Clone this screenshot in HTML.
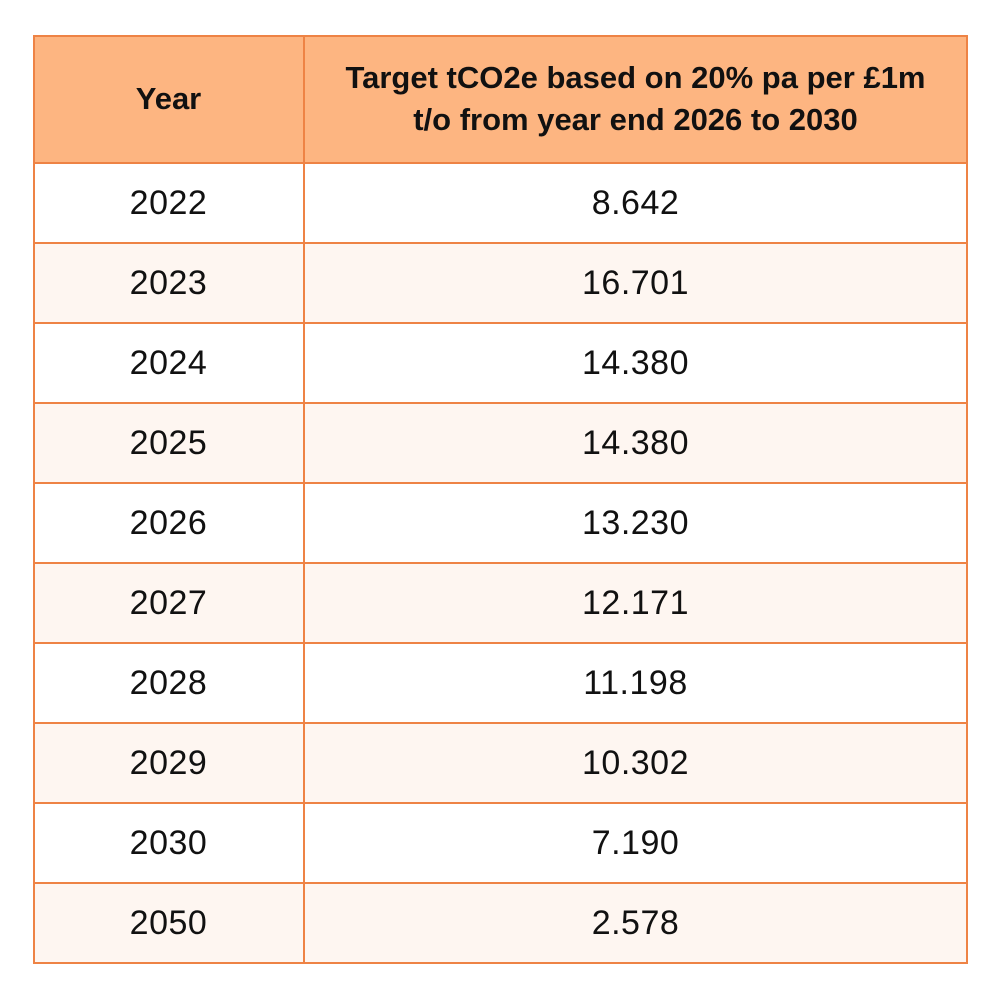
<!DOCTYPE html>
<html><head><style>
body{margin:0;width:1000px;height:1000px;background:#fff;font-family:"Liberation Sans",sans-serif;position:relative;overflow:hidden}
.c{position:absolute;box-sizing:border-box;display:flex;align-items:center;justify-content:center;text-align:center;color:#111}
.b{font-size:34px;letter-spacing:0.5px}
.h{font-weight:bold;font-size:31px;line-height:42px;background:#FDB581}
.ln{position:absolute;background:#EE8345}
</style></head><body>
<div class="c h" style="left:33px;top:35px;width:271px;height:128px">Year</div>
<div class="c h" style="left:304px;top:35px;width:663px;height:128px">Target tCO2e based on 20% pa per £1m<br>t/o from year end 2026 to 2030</div>
<div id="rows"></div>
<script>
var d=[["2022","8.642"],["2023","16.701"],["2024","14.380"],["2025","14.380"],["2026","13.230"],["2027","12.171"],["2028","11.198"],["2029","10.302"],["2030","7.190"],["2050","2.578"]];
var h="";
d.forEach(function(r,i){var y=163+i*80;var bg=i%2?"#FEF6F1":"#fff";
h+='<div class="c b" style="left:33px;top:'+y+'px;width:271px;height:80px;background:'+bg+'">'+r[0]+'</div>';
h+='<div class="c b" style="left:304px;top:'+y+'px;width:663px;height:80px;background:'+bg+'">'+r[1]+'</div>';
h+='<div class="ln" style="left:33px;top:'+(y-1)+'px;width:935px;height:2px"></div>';});
h+='<div class="ln" style="left:33px;top:35px;width:935px;height:2px"></div>';
h+='<div class="ln" style="left:33px;top:962px;width:935px;height:2px"></div>';
h+='<div class="ln" style="left:33px;top:35px;width:2px;height:929px"></div>';
h+='<div class="ln" style="left:966px;top:35px;width:2px;height:929px"></div>';
h+='<div class="ln" style="left:303px;top:35px;width:2px;height:929px"></div>';
document.getElementById("rows").innerHTML=h;
</script>
</body></html>
